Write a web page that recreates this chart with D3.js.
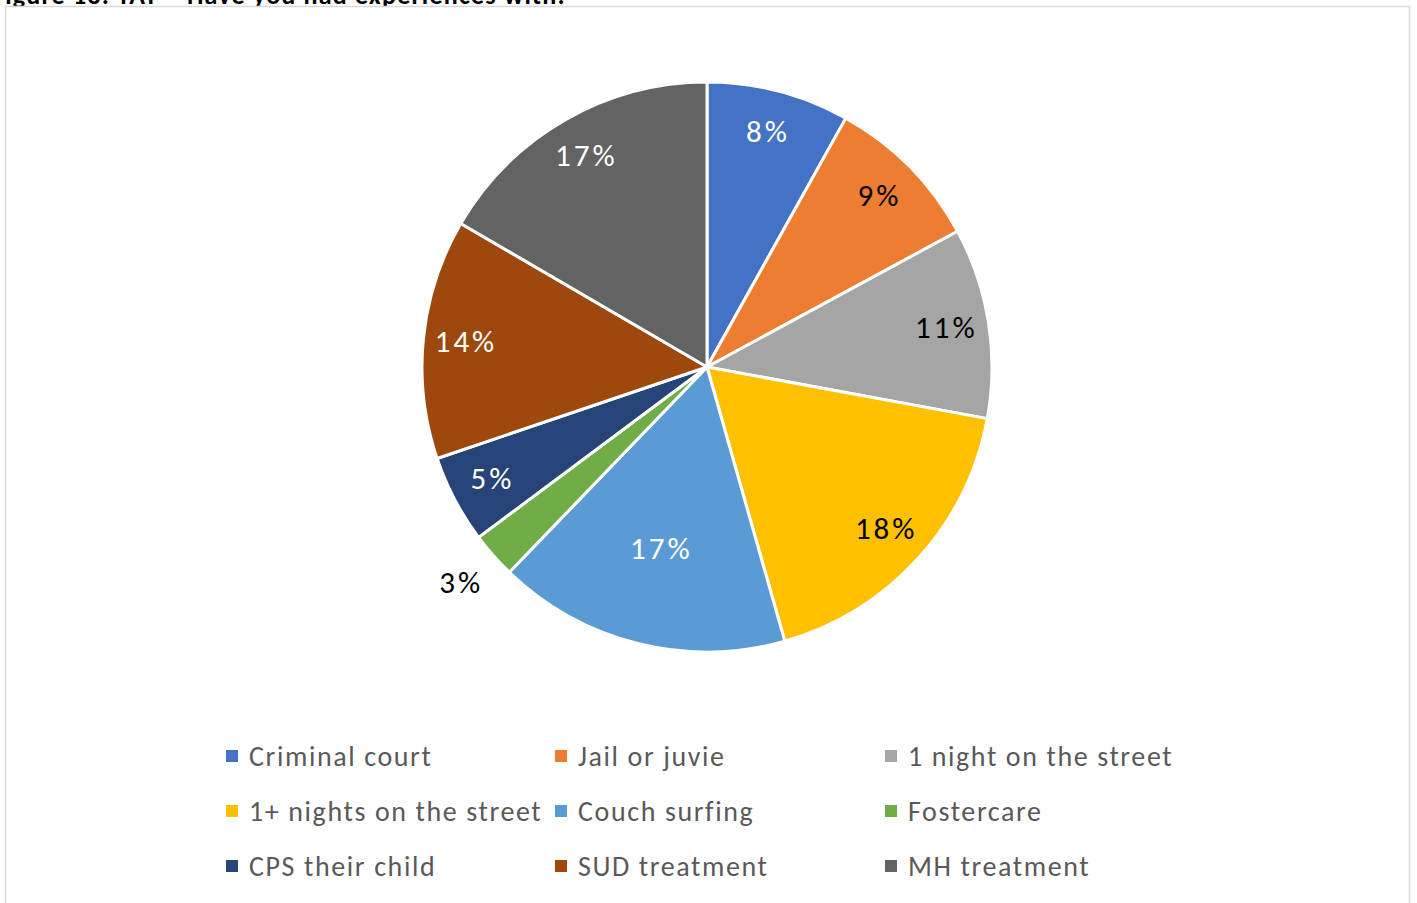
<!DOCTYPE html>
<html>
<head>
<meta charset="utf-8">
<script src="https://cdn.jsdelivr.net/npm/d3@7"></script>
<style>
  html, body { margin: 0; padding: 0; background: #fff; overflow: hidden; }
  svg { display: block; }
</style>
</head>
<body>
<svg id="chart" width="1417" height="903"></svg>
<script>
// ---- data ----
const categories = ["Criminal court", "Jail or juvie", "1 night on the street",
  "1+ nights on the street", "Couch surfing", "Fostercare",
  "CPS their child", "SUD treatment", "MH treatment"];
const values = [8.1, 9.0, 10.8, 17.7, 16.6, 2.6, 5.0, 13.6, 16.6];
const labels = ["8%", "9%", "11%", "18%", "17%", "3%", "5%", "14%", "17%"];
const colors = ["#4472C4", "#ED7D31", "#A5A5A5", "#FFC000", "#5B9BD5",
  "#70AD47", "#264478", "#9E480E", "#636363"];
const labelColors = ["#fff", "#000", "#000", "#000", "#fff", "#000", "#fff", "#fff", "#fff"];
const titleText = "Figure 13: TAY \u2013 Have you had experiences with:";

// ---- drawing ----
const svg = d3.select("#chart");
const font = "Calibri, Carlito, Lato, 'Open Sans', sans-serif";

svg.append("text")
  .attr("x", -8).attr("y", 4)
  .attr("font-family", font).attr("font-weight", "bold")
  .attr("font-size", 26).attr("letter-spacing", 1.2).attr("fill", "#000")
  .text(titleText);

svg.append("rect")
  .attr("x", 5.5).attr("y", 6.5).attr("width", 1404).attr("height", 910)
  .attr("fill", "#fff").attr("stroke", "#d9d9d9").attr("stroke-width", 1.5);

const cx = 707, cy = 367, R = 285;
const g = svg.append("g").attr("transform", `translate(${cx},${cy})`);

const data = categories.map((c, i) => ({ cat: c, value: values[i], label: labels[i], color: colors[i], lc: labelColors[i] }));
const pie = d3.pie().value(d => d.value).sort(null);
const arcs = pie(data);
const arc = d3.arc().innerRadius(0).outerRadius(R);

g.selectAll("path.slice").data(arcs).join("path")
  .attr("class", "slice")
  .attr("d", arc)
  .attr("fill", d => d.data.color)
  .attr("stroke", "#fff").attr("stroke-width", 3).attr("stroke-linejoin", "round");

const labelRadius = { "Couch surfing": 0.66, "Fostercare": 1.15 };
g.selectAll("text.lbl").data(arcs).join("text")
  .attr("class", "lbl")
  .attr("transform", d => {
    const f = labelRadius[d.data.cat] || 0.85;
    const a = d3.arc().innerRadius(R * f).outerRadius(R * f);
    const [x, y] = a.centroid(d);
    return `translate(${x},${y})`;
  })
  .attr("text-anchor", "middle").attr("dy", "0.3em")
  .attr("font-family", font).attr("font-size", 31).attr("letter-spacing", 3)
  .attr("fill", d => d.data.lc)
  .text(d => d.data.label);

// legend
const colX = [226, 555, 885], rowY = [756, 811, 866];
const leg = svg.append("g");
data.forEach((d, i) => {
  const x = colX[i % 3], y = rowY[Math.floor(i / 3)];
  leg.append("rect").attr("x", x).attr("y", y - 6).attr("width", 12).attr("height", 12).attr("fill", d.color);
  leg.append("text").attr("x", x + 23).attr("y", y).attr("dy", "0.35em")
    .attr("font-family", font).attr("font-size", 28).attr("letter-spacing", 1.6).attr("fill", "#595959")
    .text(d.cat);
});
</script>
</body>
</html>
